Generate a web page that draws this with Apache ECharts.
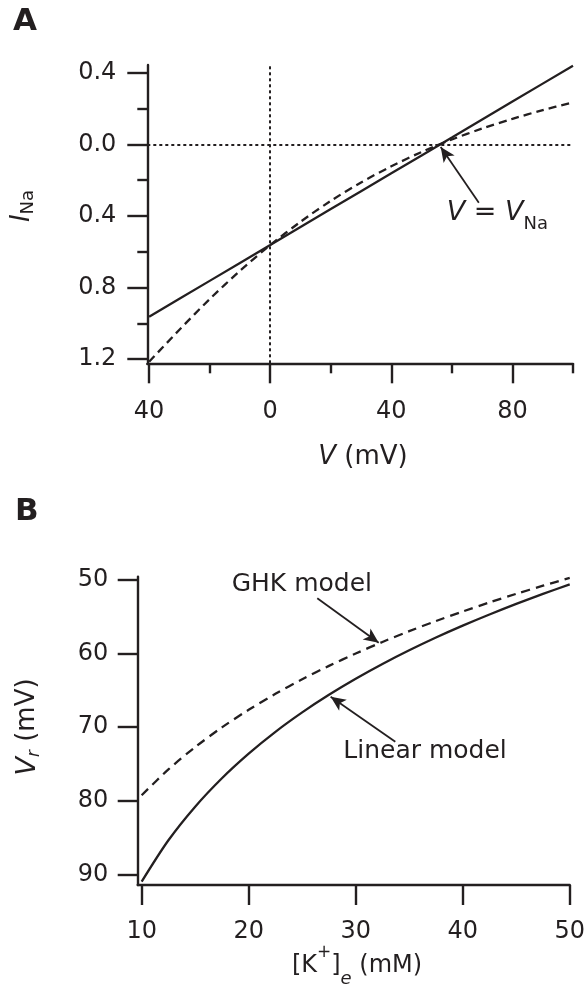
<!DOCTYPE html>
<html><head><meta charset="utf-8">
<script src="https://cdn.jsdelivr.net/npm/echarts@6/dist/echarts.min.js"></script>
<style>html,body{margin:0;padding:0;background:#fff}#c{width:588px;height:984px}</style>
</head><body><div id="c"></div>
<script>
// ---------- Panel A : I_Na vs V ----------
const vA = [-40,-30,-20,-10,0,10,20,30,40,50,60,70,80,90,100];
const iLinearA = [-0.963,-0.863,-0.763,-0.663,-0.563,-0.462,-0.362,-0.262,-0.162,-0.062,0.038,0.139,0.239,0.339,0.439];
const iGhkA = [-1.215,-1.036,-0.865,-0.707,-0.563,-0.433,-0.316,-0.213,-0.123,-0.043,0.027,0.088,0.142,0.191,0.234];
const xTicksMajorA = [-40,0,40,80];
const xTicksMinorA = [-20,20,60,100];
const yTicksMajorA = [-1.2,-0.8,-0.4,0,0.4];
const yTicksMinorA = [-1.0,-0.6,-0.2,0.2];
// ---------- Panel B : V_r vs [K+]e ----------
const kB = [10,12.5,15,17.5,20,22.5,25,27.5,30,32.5,35,37.5,40,42.5,45,47.5,50];
const vrLinearB = [-90.9,-85.3,-80.75,-76.9,-73.57,-70.62,-67.99,-65.61,-63.44,-61.44,-59.59,-57.86,-56.25,-54.74,-53.31,-51.96,-50.68];
const vrGhkB = [-79.2,-75.71,-72.69,-70.02,-67.64,-65.48,-63.51,-61.7,-60.03,-58.46,-57.0,-55.63,-54.34,-53.11,-51.95,-50.85,-49.8];
const xTicksB = [10,20,30,40,50];
const yTicksB = [-90,-80,-70,-60,-50];

const INK = '#231f20';
const FF = 'DejaVu Sans';
const zip = (a,b) => a.map((v,i)=>[v,b[i]]);
const absFmt1 = v => Math.abs(v).toFixed(1);
const absFmt0 = v => String(Math.abs(Math.round(v)));

function arrowLine(from, to){
  return [[{coord: from, symbol:'none'}, {coord: to, symbol:'arrow', symbolSize:[10,15]}]];
}
const arrowStyle = {color: INK, width: 1.8, type: 'solid'};

const chart = echarts.init(document.getElementById('c'), null, {renderer:'canvas'});
const axisLineStyle = {show:true, onZero:false, lineStyle:{color:INK, width:2.4}};
const tickStyle = {color:INK, width:2.4};
const labelBase = {color:INK, fontFamily:FF, fontSize:24};

chart.setOption({
  animation:false,
  backgroundColor:'#fff',
  grid:[
    {left:147.3, top:65, width:425.7, height:298.3},
    {left:137.7, top:576.7, width:434.3, height:308.3}
  ],
  xAxis:[
    {gridIndex:0, type:'value', position:'bottom', min:-40.6, max:100,
     axisLine:axisLineStyle, splitLine:{show:false},
     axisTick:{show:true, customValues:xTicksMajorA, length:20, lineStyle:tickStyle},
     axisLabel:Object.assign({customValues:xTicksMajorA, formatter:absFmt0, margin:36}, labelBase)},
    {gridIndex:0, type:'value', position:'bottom', min:-40.6, max:100,
     axisLine:{show:false, onZero:false}, splitLine:{show:false},
     axisTick:{show:true, customValues:xTicksMinorA, length:10, lineStyle:tickStyle},
     axisLabel:{show:false}},
    {gridIndex:1, type:'value', position:'bottom', min:9.63, max:50,
     axisLine:axisLineStyle, splitLine:{show:false},
     axisTick:{show:true, customValues:xTicksB, length:20, lineStyle:tickStyle},
     axisLabel:Object.assign({customValues:xTicksB, formatter:v=>String(v), margin:35}, labelBase)}
  ],
  yAxis:[
    {gridIndex:0, type:'value', position:'left', min:-1.2235, max:0.443,
     axisLine:axisLineStyle, splitLine:{show:false},
     axisTick:{show:true, customValues:yTicksMajorA, length:20, lineStyle:tickStyle},
     axisLabel:Object.assign({customValues:yTicksMajorA, formatter:absFmt1, margin:31}, labelBase)},
    {gridIndex:0, type:'value', position:'left', min:-1.2235, max:0.443,
     axisLine:{show:false, onZero:false}, splitLine:{show:false},
     axisTick:{show:true, customValues:yTicksMinorA, length:10, lineStyle:tickStyle},
     axisLabel:{show:false}},
    {gridIndex:1, type:'value', position:'left', min:-91.35, max:-49.63,
     axisLine:axisLineStyle, splitLine:{show:false},
     axisTick:{show:true, customValues:yTicksB, length:20, lineStyle:tickStyle},
     axisLabel:Object.assign({customValues:yTicksB, formatter:absFmt0, margin:29.4}, labelBase)}
  ],
  series:[
    {type:'line', name:'Linear A', xAxisIndex:0, yAxisIndex:0, data:zip(vA,iLinearA),
     symbol:'none', lineStyle:{color:INK, width:2.3}, emphasis:{disabled:true}, silent:true,
     markLine:{silent:true, symbol:['none','none'], label:{show:false}, animation:false,
       lineStyle:{color:INK, width:2, type:[3,3]},
       data:[{xAxis:0},{yAxis:0}]}},
    {type:'line', name:'GHK A', xAxisIndex:0, yAxisIndex:0, data:zip(vA,iGhkA), smooth:0.3,
     symbol:'none', lineStyle:{color:INK, width:2.3, type:[8,5]}, emphasis:{disabled:true}, silent:true,
     markLine:{silent:true, label:{show:false}, animation:false, lineStyle:arrowStyle,
       data:arrowLine([68.9,-0.326],[56.3,-0.015])}},
    {type:'line', name:'Linear B', xAxisIndex:2, yAxisIndex:2, data:zip(kB,vrLinearB), smooth:0.3,
     symbol:'none', lineStyle:{color:INK, width:2.3}, emphasis:{disabled:true}, silent:true,
     markLine:{silent:true, label:{show:false}, animation:false, lineStyle:arrowStyle,
       data:arrowLine([33.70,-71.96],[27.66,-65.87])}},
    {type:'line', name:'GHK B', xAxisIndex:2, yAxisIndex:2, data:zip(kB,vrGhkB), smooth:0.3,
     symbol:'none', lineStyle:{color:INK, width:2.3, type:[9,6]}, emphasis:{disabled:true}, silent:true,
     markLine:{silent:true, label:{show:false}, animation:false, lineStyle:arrowStyle,
       data:arrowLine([26.41,-52.56],[32.15,-58.57])}}
  ],
  graphic:[
    {type:'text', x:13, y:21.5, style:{text:'A', fill:INK, font:'bold 31px "DejaVu Sans"', align:'left', verticalAlign:'middle', textAlign:'left', textVerticalAlign:'middle'}},
    {type:'text', x:15, y:511.5, style:{text:'B', fill:INK, font:'bold 31px "DejaVu Sans"', align:'left', verticalAlign:'middle', textAlign:'left', textVerticalAlign:'middle'}},
    // I_Na (rotated)
    {type:'text', x:22.5, y:206, rotation:Math.PI/2, style:{text:'{i|I}{s|Na}', fill:INK, font:'26px "DejaVu Sans"',
      align:'center', verticalAlign:'middle', textAlign:'center', textVerticalAlign:'middle',
      rich:{i:{fontStyle:'italic', fontSize:26, fontFamily:FF, lineHeight:30, fill:INK, color:INK},
            s:{fontSize:18, fontFamily:FF, lineHeight:10, verticalAlign:'bottom', fill:INK, color:INK}}}},
    // V (mV)
    {type:'text', x:363, y:457, style:{text:'{i|V} (mV)', fill:INK, font:'26px "DejaVu Sans"',
      align:'center', verticalAlign:'middle', textAlign:'center', textVerticalAlign:'middle',
      rich:{i:{fontStyle:'italic', fontSize:26, fontFamily:FF, fill:INK, color:INK}}}},
    // V = V_Na
    {type:'text', x:446.7, y:213.3, style:{text:'{v|V} = {v|V}{s|Na}', fill:INK, font:'27px "DejaVu Sans"',
      align:'left', verticalAlign:'middle', textAlign:'left', textVerticalAlign:'middle',
      rich:{v:{fontStyle:'italic', fontSize:27, fontFamily:FF, lineHeight:40, fill:INK, color:INK},
            s:{fontSize:18, fontFamily:FF, lineHeight:10, verticalAlign:'bottom', fill:INK, color:INK}}}},
    // GHK model / Linear model
    {type:'text', x:231.7, y:584, style:{text:'GHK model', fill:INK, font:'25px "DejaVu Sans"', align:'left', verticalAlign:'middle', textAlign:'left', textVerticalAlign:'middle'}},
    {type:'text', x:343.3, y:751, style:{text:'Linear model', fill:INK, font:'25px "DejaVu Sans"', align:'left', verticalAlign:'middle', textAlign:'left', textVerticalAlign:'middle'}},
    // V_r (mV) rotated
    {type:'text', x:27.5, y:727, rotation:Math.PI/2, style:{text:'{v|V}{s|r}{n| (mV)}', fill:INK, font:'26px "DejaVu Sans"',
      align:'center', verticalAlign:'middle', textAlign:'center', textVerticalAlign:'middle',
      rich:{v:{fontStyle:'italic', fontSize:27, fontFamily:FF, lineHeight:32, fill:INK, color:INK},
            s:{fontStyle:'italic', fontSize:17, fontFamily:FF, lineHeight:8, verticalAlign:'bottom', fill:INK, color:INK},
            n:{fontSize:26, fontFamily:FF, lineHeight:32, fill:INK, color:INK}}}},
    // [K+]e (mM)
    {type:'text', x:357, y:966, style:{text:'{n|[K}{sup|+}{n|]}{sub|e}{n| (mM)}', fill:INK, font:'24px "DejaVu Sans"',
      align:'center', verticalAlign:'middle', textAlign:'center', textVerticalAlign:'middle',
      rich:{n:{fontSize:24, fontFamily:FF, lineHeight:44, fill:INK, color:INK},
            sup:{fontSize:17, fontFamily:FF, lineHeight:6, verticalAlign:'top', fill:INK, color:INK},
            sub:{fontStyle:'italic', fontSize:18, fontFamily:FF, lineHeight:27, verticalAlign:'bottom', fill:INK, color:INK}}}}
  ]
});
</script></body></html>
